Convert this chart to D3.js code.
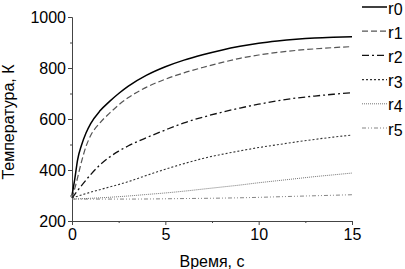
<!DOCTYPE html>
<html><head><meta charset="utf-8">
<script src="https://cdn.jsdelivr.net/npm/d3@7"></script>
<style>body{margin:0;background:#fff;} svg{display:block;} text{font-family:"Liberation Sans",Arial,sans-serif;}</style>
</head><body><div id="c"></div>
<script>
const seriesNames = ["0","1","2","3","4","5"];
const r0 = [[0,300],[0.15,365],[0.3,440],[0.5,495],[0.75,545],[1,582],[1.5,632],[2,668],[2.5,700],[3,728],[4,772],[5,805],[6,831],[7,852],[8,870],[9,885],[10,897],[11,906],[12,913],[13,918],[14,921],[15,923]];
const r1 = [[0,290],[0.25,355],[0.5,430],[0.75,492],[1,535],[1.5,585],[2,622],[2.5,655],[3,683],[4,725],[5,756],[6,781],[7,802],[8,821],[9,838],[10,851],[11,861],[12,869],[13,875],[14,880],[15,884]];
const r2 = [[0,290],[0.5,338],[1,382],[1.5,420],[2,450],[2.5,474],[3,494],[4,527],[5,557],[6,585],[7,607],[8,626],[9,643],[10,658],[11,671],[12,682],[13,690],[14,697],[15,703]];
const r3 = [[0,290],[1,313],[2,333],[3,354],[4,379],[5,403],[6,425],[7,445],[8,461],[9,475],[10,488],[11,499],[12,510],[13,520],[14,529],[15,537]];
const r4 = [[0,286],[1,289],[2,293],[3,298],[4,304],[5,310],[6,317],[7,325],[8,333],[9,341],[10,350],[11,358],[12,366],[13,374],[14,381],[15,388]];
const r5 = [[0,286],[3,286],[6,288],[9,291],[12,297],[15,303]];
const xTicks = [0,5,10,15];
const xMinor = [2.5,7.5,12.5];
const yTicks = [200,400,600,800,1000];
const yMinor = [300,500,700,900];

const allSeries = [r0,r1,r2,r3,r4,r5];
const styles = [
  {stroke:"#000", w:1.5, dash:null},
  {stroke:"#555", w:1.2, dash:"6,3"},
  {stroke:"#111", w:1.3, dash:"7,3,2,3"},
  {stroke:"#333", w:1.1, dash:"2,2"},
  {stroke:"#666", w:0.9, dash:"1,1"},
  {stroke:"#777", w:0.9, dash:"4,2,1,2,1,2"}
];

const W=405,H=269;
const svg=d3.select("#c").append("svg").attr("width",W).attr("height",H);
const x=d3.scaleLinear().domain([0,15]).range([72,352]);
const y=d3.scaleLinear().domain([200,1000]).range([221,17]);
const axisColor="#444";

const xa=svg.append("g").attr("transform","translate(0,221)")
  .call(d3.axisBottom(x).tickValues(xTicks).tickSize(4).tickPadding(3).tickFormat(d3.format("d")));
svg.append("g").attr("transform","translate(0,221)")
  .call(d3.axisBottom(x).tickValues(xMinor).tickSize(2).tickFormat("")).select(".domain").remove();
const ya=svg.append("g").attr("transform","translate(72,0)")
  .call(d3.axisLeft(y).tickValues(yTicks).tickSize(4).tickPadding(2).tickFormat(d3.format("d")));
svg.append("g").attr("transform","translate(72,0)")
  .call(d3.axisLeft(y).tickValues(yMinor).tickSize(2).tickFormat("")).select(".domain").remove();
svg.selectAll(".domain").attr("stroke",axisColor);
svg.selectAll(".tick line").attr("stroke",axisColor);
svg.selectAll(".tick text").attr("font-size",16).attr("fill","#000").attr("font-family","Liberation Sans, Arial, sans-serif");
xa.selectAll(".tick text").attr("dy","0.75em");
ya.selectAll(".tick text").attr("dy","0.36em");

const line=d3.line().x(d=>x(d[0])).y(d=>y(d[1])).curve(d3.curveMonotoneX);
allSeries.forEach((s,i)=>{
  svg.append("path").datum(s).attr("d",line).attr("fill","none")
    .attr("stroke",styles[i].stroke).attr("stroke-width",styles[i].w)
    .attr("stroke-dasharray",styles[i].dash);
});

const ly=d3.scaleLinear().domain([0,5]).range([7,128]);
seriesNames.forEach((n,i)=>{
  const yy=ly(i);
  svg.append("line").attr("x1",362).attr("x2",387).attr("y1",yy).attr("y2",yy)
    .attr("stroke",styles[i].stroke).attr("stroke-width",styles[i].w)
    .attr("stroke-dasharray",styles[i].dash);
  const t=svg.append("text").attr("x",388).attr("y",yy+6.5).attr("font-size",17).attr("fill","#000");
  t.append("tspan").text("r");
  t.append("tspan").attr("dy",1.5).attr("font-size",16).text(n);
});

svg.append("text").attr("x",212).attr("y",267).attr("text-anchor","middle").attr("font-size",16).text("Время, с");
svg.append("text").attr("transform","translate(14,122) rotate(-90)").attr("text-anchor","middle").attr("font-size",16).text("Температура, К");
</script></body></html>
